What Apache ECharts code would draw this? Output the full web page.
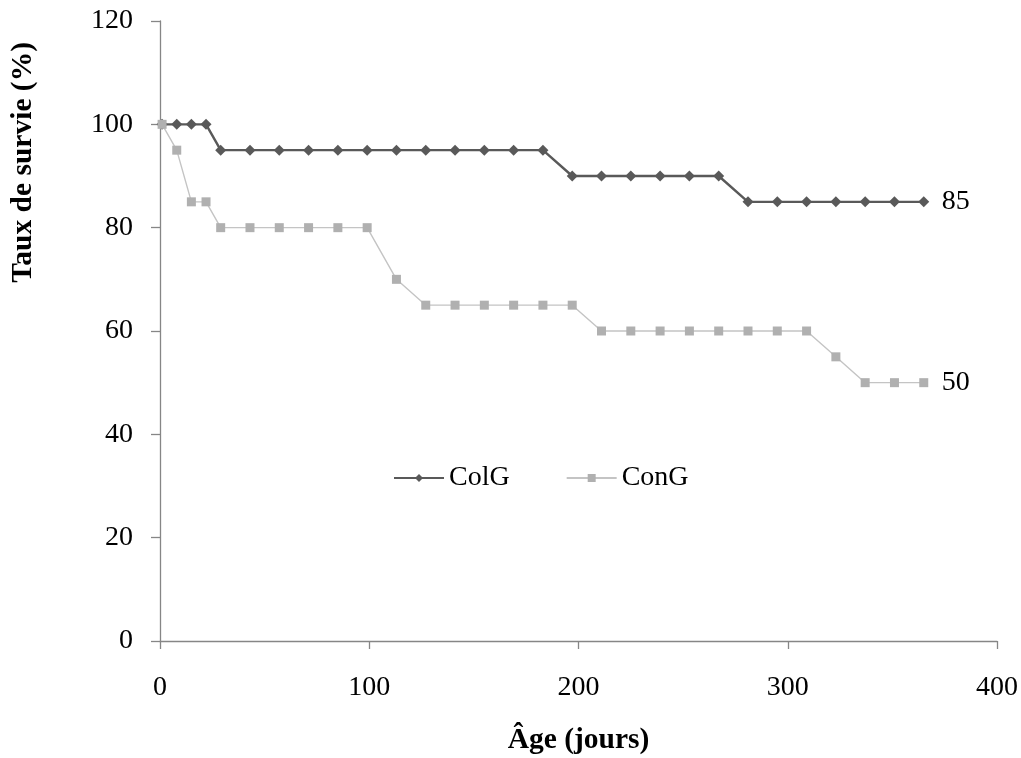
<!DOCTYPE html>
<html>
<head>
<meta charset="utf-8">
<script src="https://cdn.jsdelivr.net/npm/echarts@6/dist/echarts.min.js"></script>
<style>html,body{margin:0;padding:0;background:#fff;}#c{width:1021px;height:758px;}</style>
</head>
<body>
<div id="c"></div>
<script>
const days = [1,8,15,22,29,43,57,71,85,99,113,127,141,155,169,183,197,211,225,239,253,267,281,295,309,323,337,351,365];
const colG = [100,100,100,100,95,95,95,95,95,95,95,95,95,95,95,95,90,90,90,90,90,90,85,85,85,85,85,85,85];
const conG = [100,95,85,85,80,80,80,80,80,80,70,65,65,65,65,65,65,60,60,60,60,60,60,60,60,55,50,50,50];
const seriesNames = ['ColG','ConG'];
const xTitle = 'Âge (jours)';
const yTitle = 'Taux de survie (%)';

const FONT = '"Liberation Serif","Times New Roman",serif';
const pair = (xs, ys) => xs.map((d, i) => [d, ys[i]]);

const chart = echarts.init(document.getElementById('c'), null, {renderer: 'canvas'});
chart.setOption({
  animation: false,
  backgroundColor: '#fff',
  textStyle: {fontFamily: FONT},
  grid: {left: 160, top: 21, width: 837, height: 620, containLabel: false, outerBoundsMode: 'none'},
  legend: {
    left: 393, top: 464, padding: 0,
    itemWidth: 50, itemHeight: 10, itemGap: 56,
    textStyle: {fontFamily: FONT, fontSize: 28, color: '#000'},
    data: seriesNames
  },
  xAxis: {
    type: 'value', min: 0, max: 400, interval: 100,
    axisLine: {show: true, lineStyle: {color: '#868686', width: 1.3}},
    axisTick: {show: true, inside: false, length: 8, lineStyle: {color: '#868686', width: 1.3}},
    axisLabel: {margin: 33, fontFamily: FONT, fontSize: 28, color: '#000'},
    splitLine: {show: false},
    name: xTitle, nameLocation: 'middle', nameGap: 84,
    nameTextStyle: {fontFamily: FONT, fontSize: 29.5, fontWeight: 'bold', color: '#000'}
  },
  yAxis: {
    type: 'value', min: 0, max: 120, interval: 20,
    axisLine: {show: true, lineStyle: {color: '#868686', width: 1.3}},
    axisTick: {show: true, inside: false, length: 9, lineStyle: {color: '#868686', width: 1.3}},
    axisLabel: {margin: 27, fontFamily: FONT, fontSize: 28, color: '#000'},
    splitLine: {show: false}
  },
  graphic: [{
    type: 'text', left: 8, top: 42, rotation: Math.PI / 2,
    style: {text: yTitle, font: 'bold 29.5px ' + FONT, fill: '#000'}
  }],
  series: [
    {
      name: seriesNames[0], type: 'line', data: pair(days, colG),
      symbol: 'diamond', symbolSize: 11,
      lineStyle: {color: '#595959', width: 2.4},
      itemStyle: {color: '#595959'},
      endLabel: {show: true, distance: 18, fontFamily: FONT, fontSize: 28, color: '#000',
        formatter: p => String(p.value[1])}
    },
    {
      name: seriesNames[1], type: 'line', data: pair(days, conG),
      symbol: 'rect', symbolSize: 9,
      lineStyle: {color: '#C4C4C4', width: 1.4},
      itemStyle: {color: '#B0B0B0'},
      endLabel: {show: true, distance: 18, fontFamily: FONT, fontSize: 28, color: '#000',
        formatter: p => String(p.value[1])}
    }
  ]
});
</script>
</body>
</html>
